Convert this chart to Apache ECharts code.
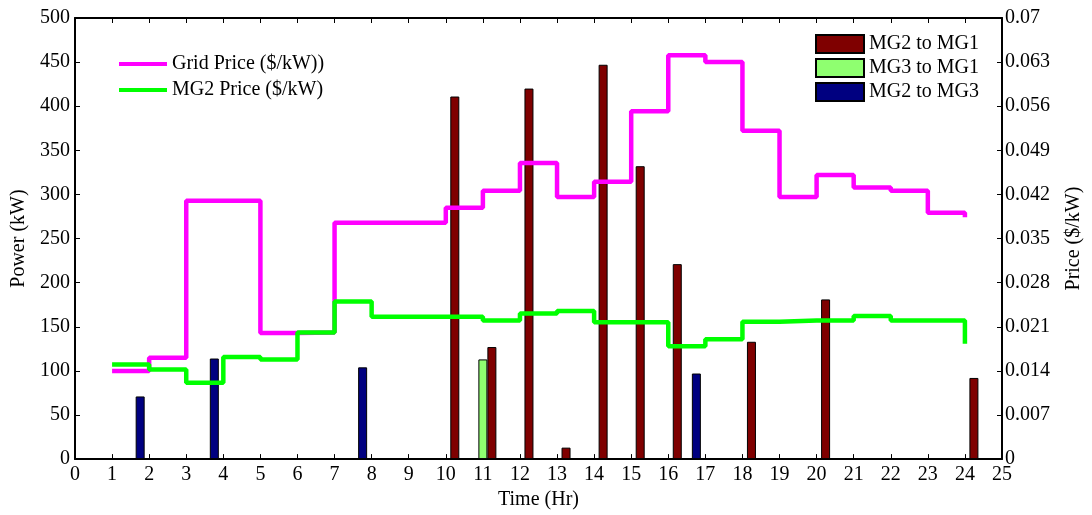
<!DOCTYPE html>
<html>
<head>
<meta charset="utf-8">
<script src="https://cdn.jsdelivr.net/npm/echarts@6/dist/echarts.min.js"></script>
<style>html,body{margin:0;padding:0;background:#fff;}#c{width:1092px;height:515px;}</style>
</head>
<body>
<div id="c"></div>
<script>
const hours = [1,2,3,4,5,6,7,8,9,10,11,12,13,14,15,16,17,18,19,20,21,22,23,24];
const gridPrice = [0.0140,0.0161,0.0410,0.0410,0.0200,0.0201,0.0375,0.0375,0.0375,0.0399,0.0426,0.0470,0.0416,0.0440,0.0552,0.0641,0.0630,0.0521,0.0416,0.0451,0.0431,0.0426,0.0391,0.0384];
const mg2Price = [0.0150,0.0142,0.0121,0.0162,0.0158,0.0201,0.0250,0.0226,0.0226,0.0226,0.0220,0.0231,0.0235,0.0217,0.0217,0.0179,0.0190,0.0218,0.0220,0.0220,0.0227,0.0220,0.0220,0.0183];
const mg2ToMg1 = [0,0,0,0,0,0,0,0,0,411,127,420,13,447,332,221,0,133,0,181,0,0,0,92];
const mg3ToMg1 = [0,0,0,0,0,0,0,0,0,0,113,0,0,0,0,0,0,0,0,0,0,0,0,0];
const mg2ToMg3 = [0,71,0,114,0,0,0,104,0,0,0,0,0,0,0,0,97,0,0,0,0,0,0,0];
const seriesNames = ['MG2 to MG1','MG3 to MG1','MG2 to MG3','Grid Price ($/kW))','MG2 Price ($/kW)'];

const pairs = arr => hours.map((h,i)=>[h,arr[i]]);
const barPairs = arr => hours.map((h,i)=>[h,arr[i]]).filter(p=>p[1]>0);

const font = 'Liberation Serif';
const fs = 20;
const chart = echarts.init(document.getElementById('c'), null, {renderer:'canvas'});
const barBase = {type:'bar', barWidth:9, barGap:'0%', xAxisIndex:0, yAxisIndex:0};
const tickStyle = {show:true, inside:true, length:5, lineStyle:{color:'#000', width:1}};
const lineAx = {show:true, onZero:false, lineStyle:{color:'#000', width:2}};
chart.setOption({
  animation:false,
  textStyle:{fontFamily:font, color:'#000'},
  grid:{left:75, right:86, top:18, bottom:52},
  legend:[
    {data:[seriesNames[3],seriesNames[4]], orient:'vertical', left:119, top:54, padding:0,
     icon:'rect', itemWidth:48, itemHeight:4, itemGap:6,
     textStyle:{fontFamily:font, fontSize:fs, color:'#000'}},
    {data:[seriesNames[0],seriesNames[1],seriesNames[2]], orient:'vertical', left:815, top:34, padding:0,
     icon:'rect', itemWidth:48, itemHeight:18, itemGap:4,
     textStyle:{fontFamily:font, fontSize:fs, color:'#000'}}
  ],
  xAxis:[
    {type:'value', min:0, max:25, interval:1, position:'bottom',
     name:'Time (Hr)', nameLocation:'middle', nameGap:28,
     nameTextStyle:{fontFamily:font, fontSize:fs, color:'#000'},
     axisLine:lineAx, axisTick:tickStyle,
     axisLabel:{fontFamily:font, fontSize:fs, color:'#000', margin:6},
     splitLine:{show:false}},
    {type:'value', min:0, max:25, interval:1, position:'top',
     axisLine:lineAx, axisTick:tickStyle,
     axisLabel:{show:false}, splitLine:{show:false}}
  ],
  yAxis:[
    {type:'value', min:0, max:500, interval:50, position:'left',
     name:'Power (kW)', nameLocation:'middle', nameGap:45,
     nameTextStyle:{fontFamily:font, fontSize:fs, color:'#000'},
     axisLine:lineAx, axisTick:tickStyle,
     axisLabel:{fontFamily:font, fontSize:fs, color:'#000', margin:5},
     splitLine:{show:false}},
    {type:'value', min:0, max:0.07, interval:0.007, position:'right',
     name:'Price ($/kW)', nameLocation:'middle', nameGap:62,
     nameTextStyle:{fontFamily:font, fontSize:fs, color:'#000'},
     axisLine:lineAx, axisTick:tickStyle,
     axisLabel:{fontFamily:font, fontSize:fs, color:'#000', margin:3,
       formatter:v=> v===0 ? '0' : String(+v.toFixed(3))},
     splitLine:{show:false}}
  ],
  series:[
    Object.assign({}, barBase, {name:seriesNames[2], data:barPairs(mg2ToMg3),
      itemStyle:{color:'#000080', borderColor:'#000', borderWidth:1}}),
    Object.assign({}, barBase, {name:seriesNames[1], data:barPairs(mg3ToMg1),
      itemStyle:{color:'#8fff70', borderColor:'#000', borderWidth:1}}),
    Object.assign({}, barBase, {name:seriesNames[0], data:barPairs(mg2ToMg1),
      itemStyle:{color:'#7f0000', borderColor:'#000', borderWidth:1}}),
    {name:seriesNames[3], type:'line', step:'end', yAxisIndex:1, data:pairs(gridPrice),
     showSymbol:false, symbol:'none', color:'#ff00ff',
     lineStyle:{color:'#ff00ff', width:4.5}, itemStyle:{color:'#ff00ff'}},
    {name:seriesNames[4], type:'line', step:'end', yAxisIndex:1, data:pairs(mg2Price),
     showSymbol:false, symbol:'none', color:'#00ff00',
     lineStyle:{color:'#00ff00', width:4.5}, itemStyle:{color:'#00ff00'}}
  ]
});
</script>
</body>
</html>
